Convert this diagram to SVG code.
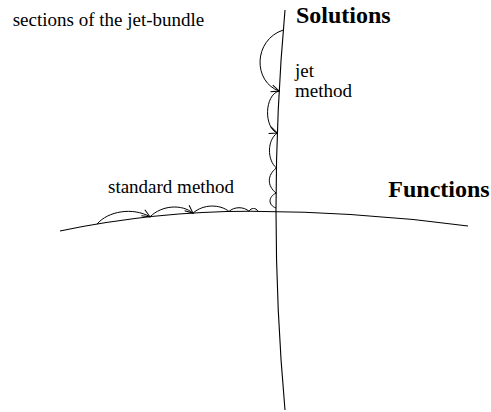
<svg xmlns="http://www.w3.org/2000/svg" width="491" height="412" viewBox="0 0 491 412">
<style>
.ln{fill:none;stroke:#000;stroke-width:1.1}
.arc{fill:none;stroke:#000;stroke-width:1}
.arr{marker-end:url(#ah)}
.t{font-family:"Liberation Serif","Times New Roman",serif;font-size:19px;fill:#000}
.b{font-family:"Liberation Serif","Times New Roman",serif;font-size:24px;font-weight:bold;fill:#000}
</style>
<defs>
<marker id="ah" markerWidth="10" markerHeight="10" refX="9" refY="5" orient="auto" markerUnits="userSpaceOnUse">
<path d="M1,1.5 L9,5 L1,8.5" fill="none" stroke="#000" stroke-width="1"/>
</marker>
</defs>
<g id="labels">
<text class="t" x="12.7" y="25.7">sections of the jet-bundle</text>
<text class="t" x="295" y="76.7">jet</text>
<text class="t" x="295" y="96.7">method</text>
<text class="t" x="108" y="192.7">standard method</text>
</g>
<g id="solutions">
<path class="ln" d="M285,10 Q267,210 285,410"/>
<text class="b" x="296" y="22.7">Solutions</text>
</g>
<g id="functions">
<path class="ln" d="M60,231 Q155,211.3 250,211.3 Q359,211.3 468,226"/>
<text class="b" x="388.3" y="196.7">Functions</text>
</g>
<g id="connectors">
<path class="arc arr" d="M283.3,30 C253,40 253,82 279.2,91"/>
<path class="arc arr" d="M279.2,91 C264,95 264,128 277.3,133"/>
<path class="arc" d="M277.3,133 C267,140 267,160 276.4,168"/>
<path class="arc" d="M276.4,168 C267,175 267,186 276.1,193"/>
<path class="arc" d="M276.1,193 C268,197 268,205 276,208"/>
<path class="arc arr" d="M97,224.1 C108,211 133,207 150,216.8"/>
<path class="arc arr" d="M150,216.8 C162,205 182,204 193,213.1"/>
<path class="arc" d="M193,213.1 C203,204 220,204 229,211.5"/>
<path class="arc" d="M229,211.5 C234,206.5 244,206.5 249,211.3"/>
<path class="arc" d="M249,211.3 C251,207.5 256,207.5 258,211.3"/>
</g>
</svg>
